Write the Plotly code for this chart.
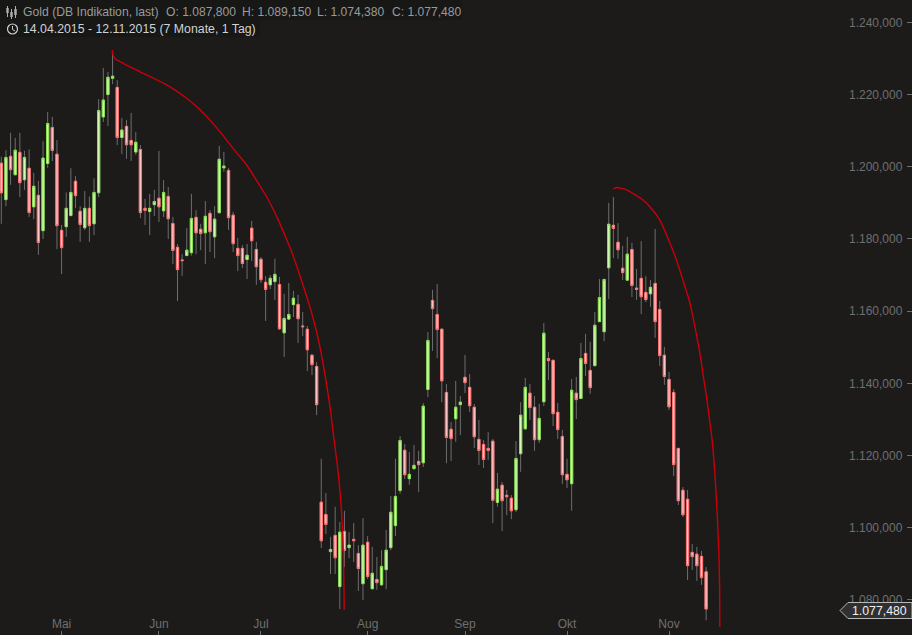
import plotly.graph_objects as go

open_ = [1201.0,1190.9,1202.9,1197.8,1204.0,1196.4,1199.6,1188.9,1192.1,1182.3,
1200.9,1210.9,1203.5,1182.4,1183.4,1186.5,1196.0,1187.7,1183.1,1188.5,
1184.2,1192.8,1213.8,1220.0,1224.5,1222.0,1208.1,1211.2,1207.3,1204.1,
1204.8,1188.5,1187.6,1189.5,1191.3,1187.8,1191.8,1184.3,1177.7,1174.2,
1175.4,1176.2,1186.0,1182.7,1181.7,1187.1,1180.6,1187.3,1199.7,1199.0,
1186.6,1177.4,1177.4,1174.3,1183.0,1177.1,1174.4,1168.0,1167.3,1168.2,
1167.4,1154.0,1157.8,1161.8,1161.9,1155.9,1155.0,1147.8,1144.7,1107.1,
1103.7,1093.4,1097.9,1083.7,1099.0,1094.5,1096.8,1092.9,1084.5,1096.0,
1083.1,1085.7,1084.2,1088.4,1094.5,1100.6,1110.3,1121.5,1113.6,1116.4,
1118.4,1118.0,1138.3,1163.0,1159.1,1155.0,1137.5,1127.3,1130.2,1134.1,
1141.7,1138.9,1133.4,1124.5,1123.1,1122.0,1124.0,1107.0,1111.8,1109.0,
1108.2,1105.0,1120.5,1127.4,1137.3,1133.4,1124.4,1134.9,1146.9,1146.4,
1132.0,1125.3,1114.8,1112.2,1137.3,1135.8,1148.3,1143.6,1144.9,1157.1,
1154.3,1172.0,1183.8,1179.1,1171.9,1168.6,1177.1,1166.4,1169.1,1165.2,
1164.8,1167.7,1160.5,1147.8,1141.1,1137.5,1122.0,1110.4,1107.9,1093.2,
1092.7,1092.1,1087.8]
high = [1202.8,1204.6,1209.4,1208.0,1209.4,1204.4,1204.8,1198.3,1196.1,1207.1,
1215.2,1213.8,1207.4,1183.9,1192.9,1199.6,1197.4,1189.1,1193.3,1191.8,
1196.8,1218.8,1227.4,1226.3,1232.3,1224.0,1213.5,1213.0,1214.9,1209.6,
1206.0,1191.1,1192.5,1193.6,1204.4,1196.3,1194.4,1186.1,1178.6,1175.8,
1183.0,1192.5,1188.0,1184.2,1190.5,1188.0,1189.1,1205.8,1204.1,1199.7,
1187.5,1180.3,1178.3,1178.6,1185.0,1179.2,1175.0,1169.7,1170.0,1174.5,
1169.5,1164.8,1167.8,1165.6,1164.5,1159.8,1155.9,1148.1,1145.9,1119.1,
1109.6,1097.5,1105.8,1101.6,1104.7,1098.8,1101.3,1095.2,1102.7,1097.7,
1094.7,1091.9,1093.8,1099.4,1108.8,1119.1,1125.4,1123.2,1121.0,1122.9,
1121.3,1134.6,1154.2,1165.9,1167.5,1155.3,1139.8,1129.3,1140.7,1136.5,
1147.9,1142.6,1134.3,1129.9,1124.3,1126.5,1124.6,1115.2,1112.7,1110.5,
1109.1,1124.0,1134.8,1141.5,1139.8,1136.5,1134.3,1156.7,1148.7,1146.5,
1134.6,1127.1,1119.1,1141.2,1141.8,1151.2,1153.7,1151.5,1159.8,1168.9,
1168.9,1190.0,1191.6,1184.4,1178.1,1180.6,1178.9,1171.7,1179.4,1169.7,
1168.6,1182.8,1162.8,1150.1,1143.2,1138.4,1122.1,1111.3,1110.5,1095.5,
1094.7,1093.6,1089.15]
low = [1184.2,1189.1,1195.0,1197.6,1191.6,1193.6,1186.1,1185.5,1175.6,1180.0,
1199.7,1201.6,1177.2,1170.3,1180.6,1186.2,1188.6,1179.2,1182.5,1179.2,
1181.1,1191.6,1212.4,1211.3,1222.9,1206.0,1203.5,1202.2,1201.6,1203.3,
1185.8,1183.9,1181.1,1186.4,1184.7,1186.1,1180.0,1173.1,1162.8,1169.8,
1175.3,1175.4,1175.8,1176.9,1173.1,1176.4,1174.7,1186.9,1198.6,1182.5,
1176.4,1171.1,1172.0,1168.9,1173.9,1167.3,1167.8,1157.3,1166.1,1163.1,
1154.8,1147.3,1157.6,1158.4,1151.2,1153.1,1143.4,1142.3,1131.2,1094.4,
1098.3,1087.2,1087.2,1077.5,1089.1,1091.6,1090.5,1082.5,1080.0,1085.8,
1083.0,1082.8,1083.9,1083.0,1093.8,1097.7,1109.4,1113.5,1111.9,1116.0,
1109.9,1116.8,1136.2,1149.0,1147.0,1134.8,1117.9,1118.5,1123.8,1125.7,
1137.3,1132.1,1122.1,1117.4,1116.6,1118.8,1101.3,1105.8,1099.1,1103.5,
1102.4,1104.4,1115.5,1127.2,1129.9,1121.3,1123.5,1133.7,1140.9,1128.2,
1124.6,1112.1,1111.0,1104.7,1130.1,1135.7,1142.0,1137.1,1144.8,1157.0,
1151.7,1163.4,1174.7,1174.5,1168.6,1168.4,1163.9,1163.1,1159.2,1162.5,
1161.2,1152.6,1144.8,1139.6,1132.6,1114.3,1106.3,1103.0,1085.5,1088.3,
1085.3,1084.2,1074.38]
close = [1192.8,1202.6,1199.2,1204.6,1195.6,1202.6,1187.3,1194.6,1179.0,1202.4,
1212.0,1204.5,1183.7,1177.6,1188.5,1192.9,1192.0,1184.0,1188.5,1183.7,
1192.9,1215.6,1218.5,1224.8,1225.1,1208.1,1210.2,1206.1,1206.1,1206.8,
1187.3,1187.9,1188.5,1190.4,1188.9,1192.9,1185.6,1176.8,1171.5,1174.0,
1176.9,1185.7,1181.7,1181.5,1186.3,1182.0,1185.5,1202.1,1200.2,1185.9,
1178.7,1175.4,1173.2,1175.5,1179.5,1172.3,1168.7,1166.0,1169.1,1170.2,
1155.1,1158.0,1159.1,1163.6,1157.9,1155.7,1149.3,1145.2,1134.1,1096.4,
1100.9,1094.0,1091.7,1098.8,1093.7,1095.2,1096.4,1088.7,1095.2,1086.5,
1087.4,1084.8,1089.3,1093.8,1104.3,1108.7,1124.2,1114.7,1114.8,1117.3,
1117.5,1133.7,1151.9,1160.7,1154.9,1140.7,1125.0,1124.7,1133.4,1134.8,
1140.2,1133.8,1125.2,1121.4,1118.9,1121.4,1107.6,1110.7,1107.5,1108.6,
1104.7,1119.2,1131.2,1138.9,1133.3,1124.4,1130.3,1153.9,1146.3,1131.6,
1127.2,1114.7,1113.3,1138.1,1135.5,1146.9,1145.5,1138.8,1156.1,1163.8,
1168.8,1184.1,1182.9,1177.0,1170.7,1175.8,1167.1,1166.0,1164.0,1163.2,
1166.6,1157.1,1147.7,1141.9,1133.5,1117.5,1107.5,1103.6,1089.5,1092.0,
1089.5,1086.2,1077.48]

arc1_x = [23.93,24.08,24.51,25.59,27.75,29.9,32.7,35.66,37.9,39.97,42.2,44.29,46.5,48.6,50.8,52.91,55.1,57.22,59.72,62.6,64.0,65.48,66.8,68.0,68.93,70.0,70.87,71.58,72.66,73.39,73.83,73.95]
arc1_y = [1232.35,1231.0,1230.0,1229.1,1227.7,1226.3,1224.6,1222.7,1220.9,1219.0,1216.6,1213.9,1210.7,1207.4,1203.8,1200.5,1196.1,1191.7,1185.3,1176.5,1171.4,1165.6,1160.1,1154.3,1148.7,1140.9,1133.7,1126.3,1115.2,1104.1,1089.1,1077.2]
arc2_x = [131.95,132.75,133.6,134.85,136.6,138.4,140.3,142.0,143.75,145.6,147.0,148.5,149.6,150.65,151.36,152.1,152.74,153.3,153.88,154.38,154.75,154.92,154.95]
arc2_y = [1193.85,1194.25,1194.1,1193.6,1192.3,1190.8,1188.3,1185.3,1180.3,1174.2,1168.6,1162.3,1155.6,1148.4,1142.3,1136.2,1129.9,1124.3,1115.2,1104.1,1093.0,1082.8,1072.5]

month_pos = [13,34,56,79,100,122,144]
month_labels = ["Mai","Jun","Jul","Aug","Sep","Okt","Nov"]
price_ticks = [1080,1100,1120,1140,1160,1180,1200,1220,1240]
title_text = "Gold (DB Indikation, last)"
range_text = "14.04.2015 - 12.11.2015 (7 Monate, 1 Tag)"
ohlc_text = ["O: 1.087,800","H: 1.089,150","L: 1.074,380","C: 1.077,480"]
last_text = "1.077,480"

W, H = 912, 635
BG = "#1c1b1a"
FONT = "Liberation Sans"
xs = list(range(len(open_)))
top = [max(o, c) for o, c in zip(open_, close)]
bot = [min(o, c) for o, c in zip(open_, close)]

fig = go.Figure()
fig.add_trace(go.Candlestick(x=xs, open=open_, high=high, low=low, close=close,
    increasing=dict(line=dict(color="#6e6e6e", width=1), fillcolor="#6e6e6e"),
    decreasing=dict(line=dict(color="#6e6e6e", width=1), fillcolor="#6e6e6e"),
    whiskerwidth=0, hoverinfo="skip"))
fig.add_trace(go.Candlestick(x=xs, open=open_, high=top, low=bot, close=close,
    increasing=dict(line=dict(color="#86e04e", width=1), fillcolor="#d4fbb6"),
    decreasing=dict(line=dict(color="#ff6f6f", width=1), fillcolor="#ffc4c4"),
    whiskerwidth=0, hoverinfo="skip"))
for ax, ay in ((arc1_x, arc1_y), (arc2_x, arc2_y)):
    fig.add_trace(go.Scatter(x=ax, y=ay, mode="lines",
        line=dict(color="#c80008", width=1.4, shape="spline", smoothing=0.6), hoverinfo="skip"))

def px(x): return x / W
def py(y): return 1 - y / H

def text(x, y, s, color, size=12):
    fig.add_annotation(xref="paper", yref="paper", x=px(x), y=py(y), text=s, showarrow=False,
        xanchor="left", yanchor="middle", font=dict(family=FONT, size=size, color=color),
        borderpad=0, borderwidth=0)

shapes = [
    dict(type="rect", xref="paper", yref="paper", x0=0, x1=px(462), y0=py(20), y1=1,
         fillcolor="#171716", line_width=0, layer="above"),
    dict(type="rect", xref="paper", yref="paper", x0=0, x1=px(260), y0=py(37), y1=py(20),
         fillcolor="#171716", line_width=0, layer="above"),
    dict(type="path", xref="paper", yref="paper", layer="above",
         path=f"M {px(840)} {py(610.5)} L {px(848)} {py(602.5)} L 1 {py(602.5)} L 1 {py(618.5)} L {px(848)} {py(618.5)} Z",
         fillcolor="#303030", line=dict(color="#b8b8b8", width=1)),
    dict(type="circle", xref="paper", yref="paper", x0=px(7.5), x1=px(17.5), y0=py(34), y1=py(24),
         line=dict(color="#d0d0d0", width=1.2), layer="above"),
    dict(type="path", xref="paper", yref="paper", layer="above",
         path=f"M {px(12.5)} {py(26)} L {px(12.5)} {py(29.5)} L {px(15)} {py(31)}",
         line=dict(color="#d0d0d0", width=1)),
]
for ix, (a, b, c, d) in zip((7.5, 11.5, 15.5), ((6, 17, 8, 13), (9, 19, 12, 17), (6, 18, 9, 15))):
    shapes.append(dict(type="line", xref="paper", yref="paper", x0=px(ix), x1=px(ix), y0=py(a), y1=py(b),
                       line=dict(color="#b0b0b0", width=1), layer="above"))
    shapes.append(dict(type="rect", xref="paper", yref="paper", x0=px(ix-1.2), x1=px(ix+1.2), y0=py(c), y1=py(d),
                       fillcolor="#b0b0b0", line_width=0, layer="above"))

fig.update_layout(
    width=W, height=H, margin=dict(l=0, r=0, t=0, b=0), autosize=False,
    paper_bgcolor=BG, plot_bgcolor=BG, showlegend=False, separators=",.",
    font=dict(family=FONT, size=12, color="#6f6f6f"), shapes=shapes,
    xaxis=dict(range=[-0.28, 196.4], rangeslider=dict(visible=False), showgrid=False, zeroline=False,
               showline=False, tickmode="array", tickvals=month_pos, ticktext=month_labels,
               ticks="inside", ticklen=4, tickwidth=1, tickcolor="#6f6f6f", ticklabelposition="inside",
               tickfont=dict(family=FONT, size=12, color="#6f6f6f")),
    yaxis=dict(range=[1070.3, 1246.2], side="right", showgrid=False, zeroline=False, showline=False,
               tickmode="array", tickvals=price_ticks, tickformat=",.3f",
               ticks="inside", ticklen=5, tickwidth=1, tickcolor="#6f6f6f", ticklabelposition="inside",
               ticklabelstandoff=4,
               tickfont=dict(family=FONT, size=12, color="#6f6f6f")),
)

text(23, 12.5, title_text, "#9a9a9a", 12.2)
for x, s in zip((165.7, 241.7, 317, 391.7), ohlc_text):
    text(x, 12.5, s, "#9a9a9a", 12.1)
text(23, 29, range_text, "#d2d2d2", 12.3)
text(852, 611, last_text, "#f0f0f0", 12.3)

fig.write_html("out.html", config=dict(displayModeBar=False),
               post_script="document.body.style.margin='0';document.body.style.overflow='hidden';document.body.style.background='#1c1b1a';")
